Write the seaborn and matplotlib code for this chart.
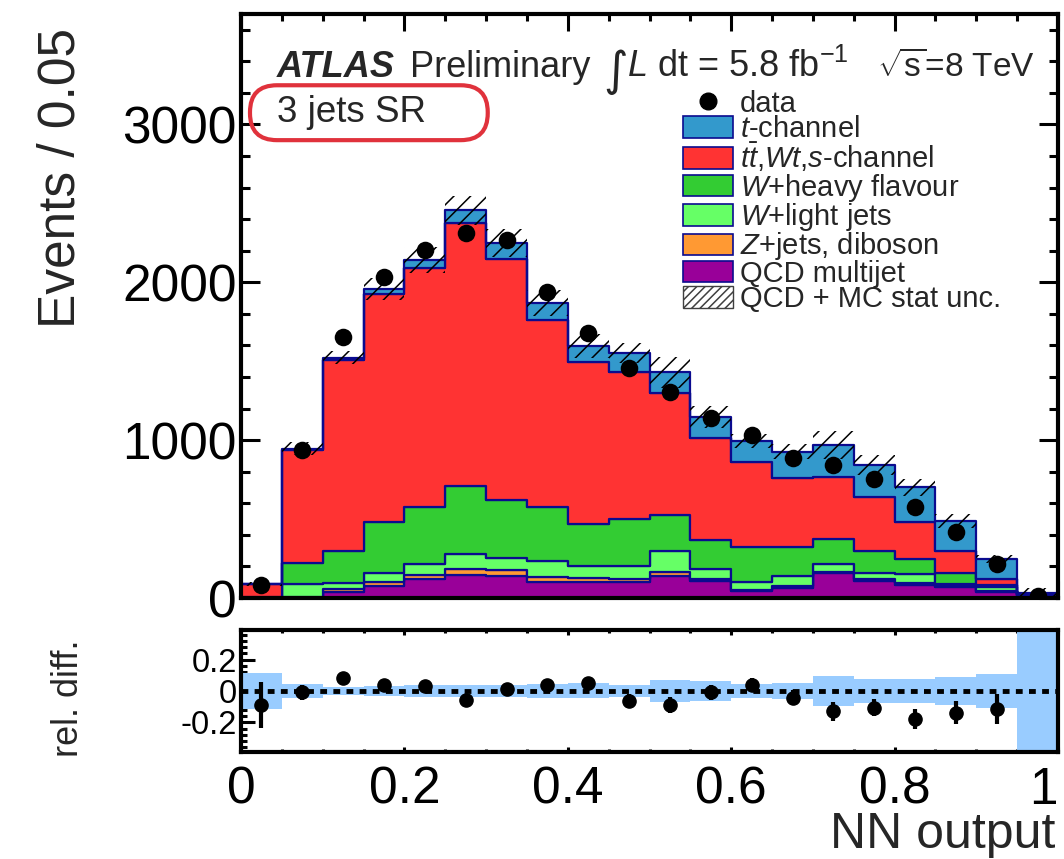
import numpy as np
import pandas as pd
import matplotlib
matplotlib.use("Agg")
import matplotlib.pyplot as plt
from matplotlib.patches import Patch, FancyBboxPatch
from matplotlib.lines import Line2D
from matplotlib.ticker import MultipleLocator, FuncFormatter
import seaborn as sns

# ---- binning of the NN output (20 bins of width 0.05) ----
n_bins = 20
x_range = (0.0, 1.0)
bin_edges = np.linspace(x_range[0], x_range[1], n_bins + 1)

# ---- stacked predictions, events per bin (bottom -> top of the stack) ----
qcd    = [0, 5, 40, 76, 119, 146, 140, 104, 102, 104, 140, 108, 45, 62, 157, 110, 83, 72, 40, 15]
zjets  = [0, 2, 15, 26, 27, 37, 38, 32, 25, 17, 22, 13, 6, 14, 9, 9, 11, 3, 4, 2]
wlight = [2, 82, 43, 55, 68, 97, 73, 96, 73, 79, 133, 64, 53, 64, 48, 42, 59, 14, 24, 5]
whf    = [2, 132, 197, 325, 361, 431, 373, 343, 269, 303, 234, 184, 217, 181, 160, 140, 95, 72, 15, 3]
ttbar  = [82, 717, 1210, 1442, 1514, 1665, 1525, 1185, 1025, 932, 770, 642, 541, 437, 392, 338, 234, 140, 36, 3]
tchan  = [3, 9, 17, 33, 51, 80, 99, 110, 105, 117, 132, 138, 134, 168, 204, 204, 221, 187, 127, 7]

# ---- observed data ----
data = [81, 938, 1652, 2032, 2202, 2312, 2270, 1936, 1679, 1456, 1304, 1138, 1034, 887, 843, 752, 575, 420, 217, 12]

# relative QCD + MC statistical uncertainty of the total prediction
mc_unc = [0.117, 0.045, 0.027, 0.035, 0.039, 0.037, 0.040, 0.045, 0.048, 0.040,
          0.069, 0.061, 0.043, 0.051, 0.094, 0.077, 0.077, 0.088, 0.110, 0.90]
# statistical error of the relative difference (data - MC) / MC
ratio_err = [0.150, 0.048, 0.020, 0.030, 0.030, 0.030, 0.035, 0.035, 0.040, 0.045,
             0.053, 0.050, 0.047, 0.050, 0.058, 0.055, 0.064, 0.074, 0.096, np.nan]

process_names = ["QCD multijet", "Z+jets, diboson", "W+light jets",
                 "W+heavy flavour", "ttbar, Wt, s-channel", "t-channel"]
process_values = [qcd, zjets, wlight, whf, ttbar, tchan]
process_colors = ["#990099", "#FF9933", "#66FF66", "#33CC33", "#FF3333", "#3399CC"]
legend_labels = [r"$t$-channel", r"$t\bar{t}$,$Wt$,$s$-channel", r"$W$+heavy flavour",
                 r"$W$+light jets", r"$Z$+jets, diboson", "QCD multijet"]
EDGE = "#0B0B8F"

# ---- style ----
sns.set_theme(style="ticks")
plt.rcParams["font.family"] = ["Liberation Sans", "DejaVu Sans"]
plt.rcParams["mathtext.fontset"] = "custom"
plt.rcParams["mathtext.rm"] = "Liberation Sans"
plt.rcParams["mathtext.it"] = "Liberation Sans:italic"
plt.rcParams["mathtext.bf"] = "Liberation Sans:bold"
plt.rcParams["axes.unicode_minus"] = False
plt.rcParams["hatch.linewidth"] = 1.1
plt.rcParams["axes.edgecolor"] = "black"
plt.rcParams["xtick.color"] = "black"
plt.rcParams["ytick.color"] = "black"

centers = 0.5 * (bin_edges[:-1] + bin_edges[1:])
total = np.sum(np.array(process_values, dtype=float), axis=0)
data_arr = np.array(data, dtype=float)
unc = np.array(mc_unc)

fig = plt.figure(figsize=(10.64, 8.59), dpi=100)
ax = fig.add_axes([0.2265, 0.3038, 0.7679, 0.6799])
axr = fig.add_axes([0.2265, 0.1246, 0.7679, 0.1420])

# ---- stacked histogram (seaborn puts the first hue level on top) ----
df = pd.DataFrame({
    "NN output": np.tile(centers, len(process_names)),
    "events": np.concatenate(process_values).astype(float),
    "process": np.repeat(process_names, len(centers)),
})
sns.histplot(data=df, x="NN output", weights="events", hue="process",
             hue_order=process_names[::-1],
             palette=dict(zip(process_names, process_colors)),
             multiple="stack", bins=n_bins, binrange=x_range, element="step",
             fill=True, alpha=1.0, edgecolor=EDGE, linewidth=1.6, legend=False, ax=ax)

# hatched uncertainty on the total prediction
lo = total * (1 - unc)
hi = total * (1 + unc)
ax.fill_between(bin_edges, np.append(lo, lo[-1]), np.append(hi, hi[-1]), step="post",
                facecolor="none", edgecolor="black", hatch="//", linewidth=0, zorder=3)

# data points
sns.scatterplot(x=centers, y=data_arr, color="black", s=160, edgecolor="black",
                linewidth=0, ax=ax, zorder=6, legend=False)

ax.set_xlim(0, 1)
ax.set_ylim(0, 3700)
ax.set_xlabel("")
ax.set_ylabel("Events / 0.05", fontsize=37, loc="top")
ax.yaxis.set_label_coords(-0.19, 0.976)

# ---- relative difference panel ----
rel = data_arr / total - 1
rel[-1] = np.nan
axr.fill_between(bin_edges, -np.append(unc, unc[-1]), np.append(unc, unc[-1]),
                 step="post", color="#99CCFF", linewidth=0, zorder=1)
axr.axhline(0, color="black", linestyle=(0, (1.4, 1.3)), linewidth=3.5, zorder=2)
axr.errorbar(centers, rel, yerr=ratio_err, fmt="o", color="black", ms=9.5,
             elinewidth=3, capsize=0, zorder=3)
axr.set_xlim(0, 1)
axr.set_ylim(-0.39, 0.39)
axr.set_ylabel("rel. diff.", fontsize=26, loc="top")
axr.yaxis.set_label_coords(-0.19, 0.918)
axr.set_xlabel("NN output", fontsize=36, loc="right")
axr.xaxis.set_label_coords(0.997, -0.787)
axr.xaxis.label.set_va("baseline")

fmt = FuncFormatter(lambda v, p: f"{round(v, 3):g}")
for a in (ax, axr):
    for s in a.spines.values():
        s.set_linewidth(3)
    a.xaxis.set_major_locator(MultipleLocator(0.2))
    a.xaxis.set_minor_locator(MultipleLocator(0.05))
    a.xaxis.set_major_formatter(fmt)
    a.yaxis.set_major_formatter(fmt)
    a.tick_params(which="both", direction="in", top=True, right=True, width=2.2)

ax.yaxis.set_major_locator(MultipleLocator(1000))
ax.yaxis.set_minor_locator(MultipleLocator(200))
ax.tick_params(axis="y", which="major", length=13.5, labelsize=37, pad=3)
ax.tick_params(axis="y", which="minor", length=6.5)
ax.tick_params(axis="x", which="major", length=12, labelbottom=False)
ax.tick_params(axis="x", which="minor", length=5)

axr.yaxis.set_major_locator(MultipleLocator(0.2))
axr.yaxis.set_minor_locator(MultipleLocator(0.04))
axr.tick_params(axis="y", which="major", length=10, labelsize=23.5, pad=3)
axr.tick_params(axis="y", which="minor", length=4.3)
axr.tick_params(axis="x", which="major", length=3.6, labelsize=37, pad=10)
axr.tick_params(axis="x", which="minor", length=2)

# ---- labels ----
ax.text(0.044, 0.892, "ATLAS", transform=ax.transAxes, fontsize=26,
        fontweight="bold", fontstyle="italic", va="baseline", ha="left")
ax.text(0.207, 0.892, "Preliminary", transform=ax.transAxes, fontsize=26,
        va="baseline", ha="left")
ax.text(0.443, 0.878, "\u222b", transform=ax.transAxes, fontsize=34,
        va="baseline", ha="left", family=["DejaVu Sans"])
ax.text(0.473, 0.892, r"$L$ dt = 5.8 fb$^{-1}$", transform=ax.transAxes, fontsize=26,
        va="baseline", ha="left")
ax.text(0.779, 0.892, r"$\sqrt{\mathrm{s}}$=8 TeV", transform=ax.transAxes, fontsize=24,
        va="baseline", ha="left")

ax.text(0.044, 0.815, "3 jets SR", transform=ax.transAxes, fontsize=26.5,
        va="baseline", ha="left")
ax.add_patch(FancyBboxPatch((0.011, 0.784), 0.291, 0.094, transform=ax.transAxes,
                            boxstyle="round,pad=0,rounding_size=0.033",
                            mutation_aspect=817 / 584, facecolor="none",
                            edgecolor="#E0323C", linewidth=3, zorder=7))

# ---- legend ----
handles = [Line2D([], [], marker="o", linestyle="none", color="black", markersize=12)]
for name, col in zip(process_names[::-1], process_colors[::-1]):
    handles.append(Patch(facecolor=col, edgecolor=EDGE, linewidth=1.2))
handles.append(Patch(facecolor="white", edgecolor="0.25", hatch="////", linewidth=1.0))
labels = ["data"] + legend_labels + ["QCD + MC stat unc."]
ax.legend(handles, labels, loc="upper left", bbox_to_anchor=(0.541, 0.870),
          frameon=False, fontsize=21, handlelength=1.71, handleheight=0.75,
          handletextpad=0.25, labelspacing=-0.09, borderpad=0, borderaxespad=0)

# keep the last x tick label inside the figure edge
fig.canvas.draw()
for tick in axr.xaxis.get_major_ticks():
    if abs(tick.get_loc() - 1.0) < 1e-9:
        tick.label1.set_horizontalalignment("right")

fig.savefig("out.png", dpi=100)
